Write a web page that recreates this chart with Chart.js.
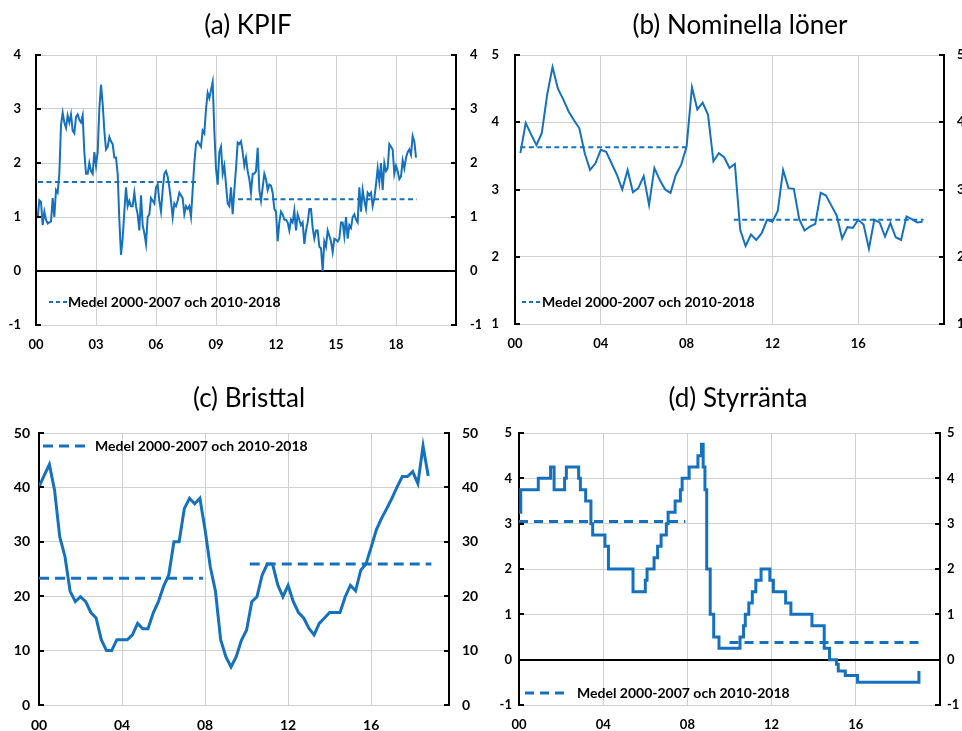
<!DOCTYPE html>
<html>
<head>
<meta charset="utf-8">
<script src="https://cdn.jsdelivr.net/npm/chart.js@4/dist/chart.umd.min.js"></script>
<style>
  html, body { margin: 0; padding: 0; background: #fff; }
  body { width: 962px; height: 731px; position: relative; overflow: hidden; }
  canvas { position: absolute; }
</style>
</head>
<body>
<canvas id="cA" width="481" height="365" style="left:0;top:0"></canvas>
<canvas id="cB" width="481" height="365" style="left:481px;top:0"></canvas>
<canvas id="cC" width="481" height="366" style="left:0;top:365px"></canvas>
<canvas id="cD" width="481" height="366" style="left:481px;top:365px"></canvas>
<script>
// ---------------- DATA ----------------
// (a) KPIF, monthly, Jan 2000 - Dec 2018
const kpifValues = [
  0.98,1.31,1.28,0.85,1.1,0.95,0.88,0.9,0.92,1.35,1.0,1.5,
  1.45,1.8,2.7,2.93,2.75,2.65,2.88,2.75,2.9,2.6,2.55,2.85,
  2.9,2.8,2.75,2.88,2.2,1.8,1.8,2.0,1.85,1.8,2.2,1.95,
  2.2,3.0,3.45,3.1,2.6,2.25,2.3,2.48,2.4,2.35,2.1,2.1,
  1.8,0.95,0.3,0.6,1.1,1.55,1.2,1.3,1.2,1.2,1.45,1.2,
  1.05,0.75,1.4,0.85,0.7,0.5,1.0,1.05,1.35,1.3,1.25,1.55,
  1.6,1.3,1.1,1.5,1.8,1.85,1.75,1.55,1.3,1.0,1.25,1.2,
  1.3,1.45,1.4,1.35,1.05,1.2,1.15,1.2,1.0,1.5,2.0,2.35,
  2.4,2.35,2.3,2.6,2.55,3.0,3.3,3.2,3.35,3.5,2.6,1.9,
  1.6,2.2,2.3,1.8,1.95,1.6,1.25,1.2,1.55,1.05,1.5,1.9,
  2.38,2.35,2.4,2.2,1.95,2.1,1.85,1.7,1.45,1.8,1.8,1.85,
  2.28,1.5,1.3,1.55,1.8,1.7,1.5,1.6,1.58,1.45,1.15,1.1,
  0.55,0.9,1.1,1.05,0.95,0.95,0.9,0.75,0.95,0.9,1.12,0.75,
  1.05,0.95,0.85,0.9,0.5,0.75,0.9,1.15,1.15,0.8,0.6,0.75,
  0.75,0.45,0.42,0.0,0.55,0.45,0.75,0.65,0.55,0.35,0.6,0.58,
  0.55,0.6,0.9,0.9,0.65,1.0,0.6,0.85,0.8,1.0,1.05,0.95,
  0.9,1.55,1.1,1.5,1.3,1.15,1.45,1.4,1.45,1.2,1.35,1.6,
  1.9,1.65,2.0,1.5,2.0,1.85,1.9,2.35,2.3,2.25,1.8,1.95,
  1.85,1.7,1.75,2.05,1.9,2.1,2.2,2.25,2.15,2.5,2.4,2.1
];
// (b) Nominella löner, quarterly, Q1 2000 - Q4 2018
const wageValues = [
  3.54,3.99,3.82,3.66, 3.84,4.41,4.82,4.5, 4.34,4.16,4.03,3.91, 3.54,3.29,3.39,3.59,
  3.56,3.39,3.22,3.0, 3.29,2.96,3.02,3.2, 2.77,3.32,3.14,3.0, 2.95,3.22,3.37,3.64,
  4.52,4.19,4.29,4.11, 3.42,3.54,3.48,3.32, 3.38,2.4,2.16,2.33, 2.25,2.35,2.55,2.52,
  2.68,3.29,3.02,3.01, 2.56,2.39,2.45,2.49, 2.95,2.91,2.76,2.61, 2.27,2.44,2.43,2.55,
  2.48,2.12,2.55,2.51, 2.3,2.5,2.29,2.25, 2.6,2.56,2.51,2.52
];
// (c) Bristtal, quarterly, Q1 2000 - Q4 2018
const bristValues = [
  40.1,42.2,44.2,39.5, 30.9,27.3,20.9,19, 19.9,19,17,16, 12,10,10,12,
  12,12,12.9,15, 14,14,16.9,19, 21.8,23.9,30,30, 36.1,38,37,38,
  32.2,25.4,20.9,12, 8.9,7,8.9,11.9, 13.8,19,19.9,23.9, 25.9,25.9,22.1,19.9,
  22,19,17,16, 14.1,12.9,15,16, 17,17,17,19.9, 22,21,24.8,25.9,
  29,32.2,34.3,36.1, 38,40.1,42,42, 42.9,40.7,47.6,42.1
];
// (d) Styrränta: month of change and new rate
const repoDates = ['2000-01','2000-02','2000-12','2001-07','2001-09','2002-03','2002-04','2002-11','2002-12',
  '2003-03','2003-06','2003-07','2004-02','2004-04','2005-06','2006-01','2006-02','2006-06','2006-08',
  '2006-10','2007-01','2007-02','2007-06','2007-09','2007-10','2008-02','2008-07','2008-09','2008-10',
  '2008-11','2008-12','2009-02','2009-04','2009-07','2010-07','2010-09','2010-10','2010-12','2011-02',
  '2011-04','2011-07','2011-12','2012-02','2012-09','2012-12','2013-12','2014-07','2014-10','2015-02',
  '2015-03','2015-07','2016-02','2019-01'];
const repoValues = [3.25,3.75,4.0,4.25,3.75,4.0,4.25,4.0,3.75,
  3.5,3.0,2.75,2.5,2.0,1.5,1.75,2.0,2.25,2.5,
  2.75,3.0,3.25,3.5,3.75,4.0,4.25,4.5,4.75,4.25,
  3.75,2.0,1.0,0.5,0.25,0.5,0.75,1.0,1.25,1.5,
  1.75,2.0,1.75,1.5,1.25,1.0,0.75,0.25,0.0,-0.1,
  -0.25,-0.35,-0.5,-0.25];
// Means 2000-2007 and 2010-2018
const kpifMeans  = [1.65, 1.33];
const wageMeans  = [3.63, 2.55];
const bristMeans = [23.3, 25.9];
const repoMeans  = [3.05, 0.38];
const meanLabel = 'Medel 2000-2007 och 2010-2018';
const titles = ['(a) KPIF', '(b) Nominella löner', '(c) Bristtal', '(d) Styrränta'];
const xTicksA = [2000, 2003, 2006, 2009, 2012, 2015, 2018];
const xTicks4 = [2000, 2004, 2008, 2012, 2016];

// ---------------- STYLE ----------------
const BLUE = '#1571be';
const GRID = '#d0d0d0';
Chart.defaults.font.family = 'Lato, "Noto Sans", sans-serif';
Chart.defaults.color = '#000';

const ym = s => { const [y, m] = s.split('-').map(Number); return y + (m - 1) / 12; };
const meanSet = (vals, spans, width, dash) => vals.map((m, k) => ({
  label: meanLabel, data: [{x: spans[k][0], y: m}, {x: spans[k][1], y: m}],
  borderColor: BLUE, borderWidth: width, borderDash: dash, pointRadius: 0, fill: false
}));

const decor = {
  id: 'decor',
  afterDraw(chart, args, o) {
    const {ctx, chartArea: ca} = chart;
    const ys = chart.scales.y;
    ctx.save();
    ctx.strokeStyle = '#000'; ctx.lineWidth = 2;
    ys.ticks.forEach(t => {
      const py = Math.round(ys.getPixelForValue(t.value));
      ctx.beginPath();
      ctx.moveTo(ca.left, py); ctx.lineTo(ca.left + 5, py);
      ctx.moveTo(ca.right - 5, py); ctx.lineTo(ca.right, py);
      ctx.stroke();
    });
    ctx.fillStyle = '#000';
    ctx.font = '26px Lato, "Noto Sans", sans-serif';
    ctx.textAlign = 'center'; ctx.textBaseline = 'alphabetic';
    ctx.fillText(o.title, o.titleX, o.titleY);
    ctx.strokeStyle = BLUE; ctx.lineWidth = o.lw; ctx.setLineDash(o.dash);
    ctx.beginPath(); ctx.moveTo(o.lx1, o.ly); ctx.lineTo(o.lx2, o.ly); ctx.stroke();
    ctx.setLineDash([]);
    ctx.font = 'bold 14px Lato, "Noto Sans", sans-serif';
    ctx.textAlign = 'left'; ctx.textBaseline = 'middle';
    ctx.fillText(meanLabel, o.tx, o.ly);
    ctx.restore();
  }
};

function makeChart(id, c) {
  const yTicks = (pad, pos) => ({
    type: 'linear', position: pos, min: c.yMin, max: c.yMax,
    afterFit: s => { s.width = pos === 'left' ? c.L : c.R; },
    ticks: { stepSize: c.step, padding: pad, color: '#000', font: { weight: 'bold', size: c.fs } },
    border: { color: '#000', width: 2 }
  });
  const yLeft = yTicks(c.lp, 'left');
  yLeft.grid = {
    drawTicks: false,
    color: ctx => (c.zero && ctx.tick && ctx.tick.value === 0) ? '#000' : GRID,
    lineWidth: ctx => (c.zero && ctx.tick && ctx.tick.value === 0) ? 2 : 1
  };
  const yRight = yTicks(c.rp, 'right');
  yRight.grid = { drawOnChartArea: false, drawTicks: false };
  return new Chart(document.getElementById(id), {
    type: 'line',
    data: { datasets: c.datasets },
    options: {
      responsive: false, animation: false, devicePixelRatio: 1,
      layout: { padding: { top: c.T, left: 0, right: 0, bottom: 0 } },
      elements: { point: { radius: 0 }, line: { tension: 0 } },
      plugins: { legend: { display: false }, tooltip: { enabled: false }, decor: c.decor },
      scales: {
        x: {
          type: 'linear', min: c.xMin, max: c.xMax,
          afterFit: s => { s.height = c.H; },
          afterBuildTicks: s => { s.ticks = c.xTicks.map(v => ({ value: v })); },
          grid: { color: GRID, drawTicks: false, lineWidth: 1 },
          border: { display: false },
          ticks: { padding: 12, color: '#000', font: { weight: 'bold', size: c.fs },
                   callback: v => String(Math.round(v) - 2000).padStart(2, '0') }
        },
        y: yLeft,
        y2: yRight
      }
    },
    plugins: [decor]
  });
}

// (a)
makeChart('cA', {
  xMin: 2000, xMax: 2021, xTicks: xTicksA, yMin: -1, yMax: 4, step: 1, zero: true,
  L: 36, R: 25, T: 55, H: 40, lp: 15, rp: 14, fs: 13,
  datasets: [
    { label: 'KPIF', data: kpifValues.map((v, i) => ({ x: 2000 + (i + 1) / 12, y: v })),
      borderColor: BLUE, borderWidth: 2, pointRadius: 0, fill: false },
    ...meanSet(kpifMeans, [[2000.1, 2008.1], [2010.1, 2019.05]], 2, [5, 3.5])
  ],
  decor: { title: titles[0], titleX: 248, titleY: 34, lx1: 49, lx2: 67, ly: 302, tx: 68, lw: 2, dash: [4, 3] }
});
// (b)
makeChart('cB', {
  xMin: 2000, xMax: 2020, xTicks: xTicks4, yMin: 1, yMax: 5, step: 1, zero: false,
  L: 34, R: 18, T: 55, H: 41, lp: 16, rp: 13, fs: 13,
  datasets: [
    { label: 'Nominella löner', data: wageValues.map((v, i) => ({ x: 2000 + (i + 1) * 0.25, y: v })),
      borderColor: BLUE, borderWidth: 2, pointRadius: 0, fill: false },
    ...meanSet(wageMeans, [[2000.25, 2008.0], [2010.2, 2019.05]], 2, [5, 3.5])
  ],
  decor: { title: titles[1], titleX: 259, titleY: 34, lx1: 41, lx2: 60, ly: 302, tx: 61, lw: 2, dash: [4, 3] }
});
// (c)
makeChart('cC', {
  xMin: 2000, xMax: 2019.75, xTicks: xTicks4, yMin: 0, yMax: 50, step: 10, zero: false,
  L: 39, R: 32, T: 68, H: 26, lp: 9, rp: 13, fs: 14,
  datasets: [
    { label: 'Bristtal', data: bristValues.map((v, i) => ({ x: 2000 + i * 0.25, y: v })),
      borderColor: BLUE, borderWidth: 3, pointRadius: 0, fill: false },
    ...meanSet(bristMeans, [[2000.0, 2007.9], [2010.15, 2018.9]], 3, [10, 6])
  ],
  decor: { title: titles[2], titleX: 249, titleY: 42, lx1: 43, lx2: 88, ly: 81, tx: 95, lw: 3, dash: [10, 6] }
});
// (d)
makeChart('cD', {
  xMin: 2000, xMax: 2020, xTicks: xTicks4, yMin: -1, yMax: 5, step: 1, zero: true,
  L: 38, R: 22, T: 68, H: 26, lp: 7, rp: 7, fs: 13,
  datasets: [
    { label: 'Styrränta', data: repoDates.map((d, i) => ({ x: ym(d), y: repoValues[i] })),
      stepped: true, borderColor: BLUE, borderWidth: 3, pointRadius: 0, fill: false },
    ...meanSet(repoMeans, [[2000.0, 2007.9], [2010.0, 2019.0]], 3, [9, 6])
  ],
  decor: { title: titles[3], titleX: 257, titleY: 42, lx1: 44, lx2: 88, ly: 328, tx: 96, lw: 3, dash: [9, 6] }
});
</script>
</body>
</html>
